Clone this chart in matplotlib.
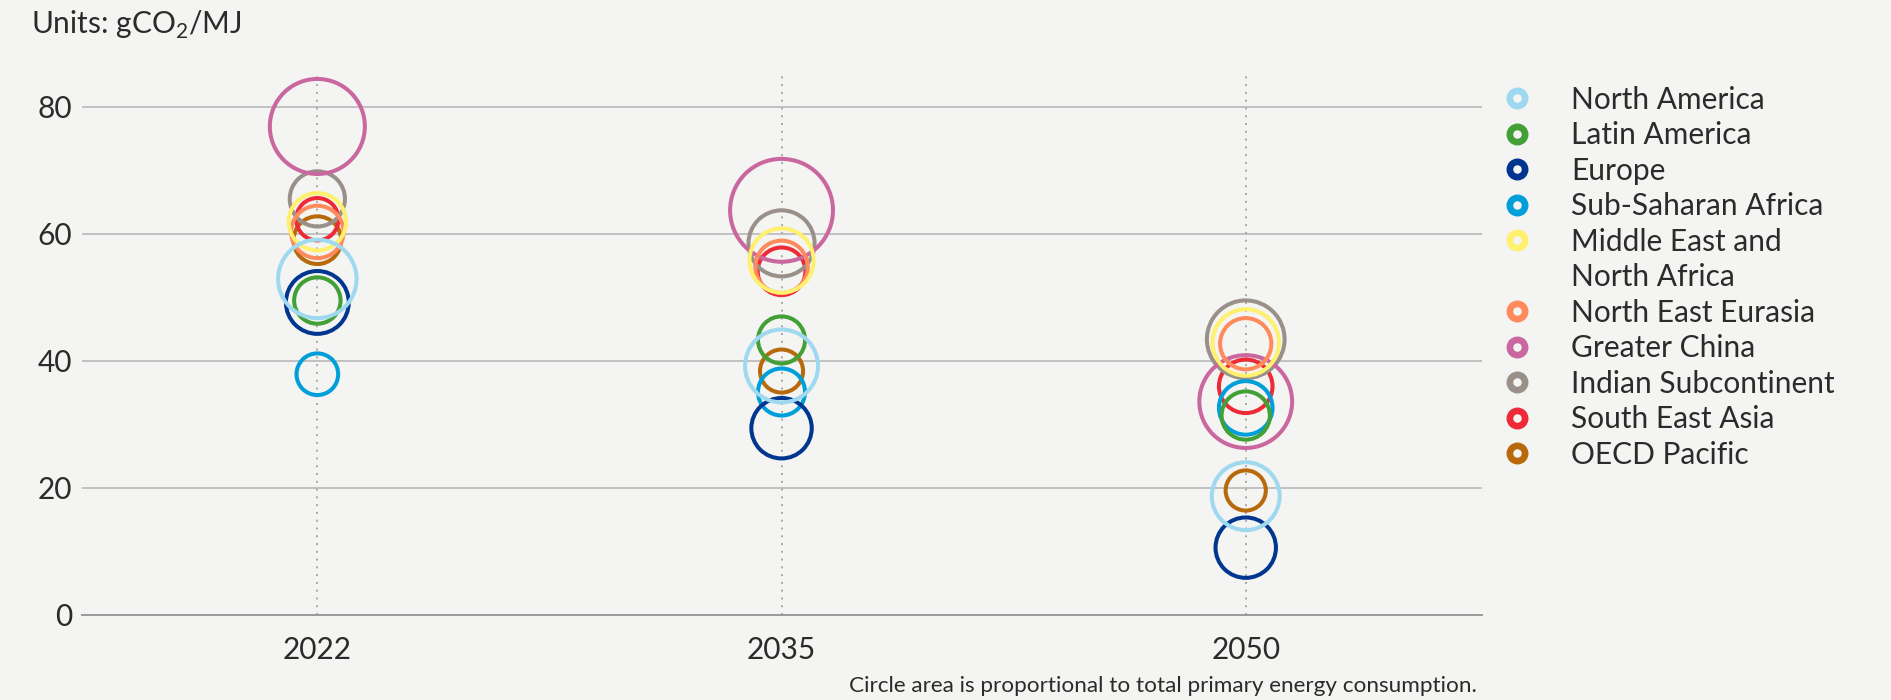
import matplotlib
matplotlib.use('Agg')
import matplotlib.pyplot as plt
from matplotlib.lines import Line2D

plt.rcParams['font.family'] = ['Lato', 'DejaVu Sans']
plt.rcParams['mathtext.fontset'] = 'custom'
plt.rcParams['mathtext.rm'] = 'Lato'

years = ['2022', '2035', '2050']
regions = ['North America', 'Latin America', 'Europe', 'Sub-Saharan Africa',
           'Middle East and\nNorth Africa', 'North East Eurasia', 'Greater China',
           'Indian Subcontinent', 'South East Asia', 'OECD Pacific']
colors = ['#9fd9f0', '#43a036', '#00368f', '#009fda', '#fff06e',
          '#ff8a5b', '#c9679e', '#999089', '#ee2a37', '#b8690b']

# emission intensity, gCO2/MJ (per region, for 2022, 2035, 2050)
intensity = {
    'North America':                [52.9, 39.2, 18.7],
    'Latin America':                [49.5, 43.3, 31.4],
    'Europe':                       [49.2, 29.4, 10.6],
    'Sub-Saharan Africa':           [37.9, 35.1, 32.6],
    'Middle East and\nNorth Africa': [61.9, 55.8, 42.9],
    'North East Eurasia':           [60.3, 54.8, 42.7],
    'Greater China':                [76.9, 63.7, 33.6],
    'Indian Subcontinent':          [65.5, 58.5, 43.4],
    'South East Asia':              [62.3, 54.1, 36.0],
    'OECD Pacific':                 [59.0, 38.4, 19.6],
}

# total primary energy consumption, EJ (estimated from circle areas)
energy = {
    'North America':                [103, 89, 77],
    'Latin America':                [36, 37, 39],
    'Europe':                       [66, 61, 61],
    'Sub-Saharan Africa':           [29, 37, 48],
    'Middle East and\nNorth Africa': [55, 69, 74],
    'North East Eurasia':           [46, 46, 44],
    'Greater China':                [151, 177, 144],
    'Indian Subcontinent':          [51, 73, 101],
    'South East Asia':              [30, 38, 48],
    'OECD Pacific':                 [38, 31, 27],
}

bg = '#f4f4f2'
txt = '#2b2b2b'
W, H = 1891, 700
fs = 21.5

fig = plt.figure(figsize=(W / 100, H / 100), dpi=100, facecolor=bg)
ax = fig.add_axes([82 / W, 85 / H, (1482 - 82) / W, 540 / H])
ax.set_facecolor(bg)

x = list(range(len(years)))
for xi in x:
    ax.axvline(xi, color='#a8a8a8', linestyle=(0, (1, 3)), lw=1.4, zorder=1)

# North America drawn last so it sits on top
for region, color in reversed(list(zip(regions, colors))):
    sizes = [31 * e for e in energy[region]]
    ax.scatter(x, intensity[region], s=sizes, facecolors='none', edgecolors=color,
               linewidths=2.9, zorder=3, clip_on=False)

ax.set_xlim(-0.507, 2.509)
ax.set_ylim(0, 85)
ax.set_yticks([0, 20, 40, 60, 80])
ax.set_xticks(x)
ax.set_xticklabels(years)
ax.yaxis.grid(True, color='#b9b9b9', lw=1.2, zorder=0)
ax.set_axisbelow(True)
for side in ['top', 'right', 'left']:
    ax.spines[side].set_visible(False)
ax.spines['bottom'].set_color('#9a9a9a')
ax.spines['bottom'].set_linewidth(1.4)
ax.tick_params(axis='both', length=0, labelsize=fs, labelcolor=txt)
ax.tick_params(axis='x', pad=15)
ax.tick_params(axis='y', pad=7)

def inch(px, py):
    return px / 100, (H - py) / 100

fig.text(*inch(31, 34), 'Units: gCO$_{\\rm 2}$/MJ', transform=fig.dpi_scale_trans,
         fontsize=fs, color=txt, va='baseline', ha='left')

fig.text(*inch(1477, 692), 'Circle area is proportional to total primary energy consumption.',
         transform=fig.dpi_scale_trans, fontsize=16.2, color=txt, va='baseline', ha='right')

# legend
row = 35.5
ypos = 98.3
for region, color in zip(regions, colors):
    fig.add_artist(Line2D([1517 / 100], [(H - ypos) / 100], transform=fig.dpi_scale_trans,
                          marker='o', ms=11.0, mew=4.8, mec=color, mfc=bg, linestyle='none'))
    lines = region.split('\n')
    for k, line in enumerate(lines):
        fig.text(*inch(1571, ypos + 10.5 + k * row), line, transform=fig.dpi_scale_trans,
                 fontsize=fs, color=txt, va='baseline', ha='left')
    ypos += row * len(lines)

fig.savefig('out.png', dpi=100, facecolor=bg)
